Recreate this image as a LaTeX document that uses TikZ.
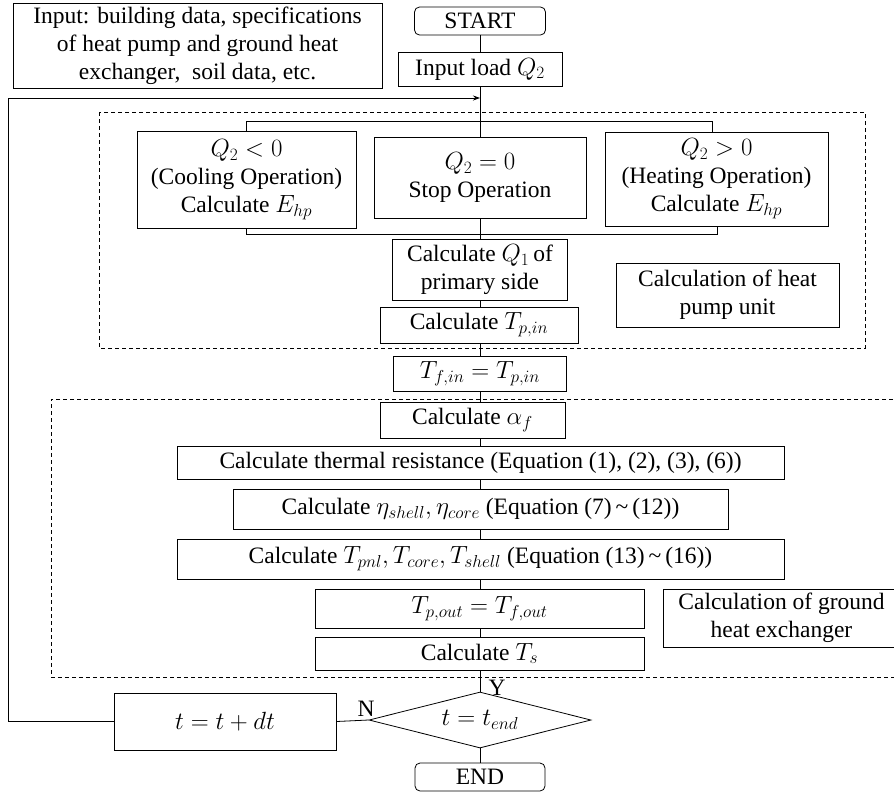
\documentclass[tikz,border=0pt]{standalone}
\usepackage{fontspec}
\setmainfont{Liberation Serif}
\usetikzlibrary{shapes.geometric,arrows.meta}
\newcommand{\fsbig}{\fontsize{23.5}{28}\selectfont}
\begin{document}
\begin{tikzpicture}[x=1pt,y=-1pt,
  box/.style={draw, line width=0.8pt, inner sep=0pt, align=center, font=\fsbig},
  term/.style={box, rounded corners=5pt},
  conn/.style={line width=0.8pt},
  dashbox/.style={line width=0.8pt, dash pattern=on 4pt off 3pt},
  lbl/.style={font=\fsbig, inner sep=0pt}]
\useasboundingbox (0,0) rectangle (894,793);
\clip (0,0) rectangle (894,793);
\fill[white] (0,0) rectangle (894,793);

% dashed group boxes
\draw[dashbox] (99,112) rectangle (865,348);
\draw[dashbox] (900,399) -- (51,399) -- (51,677) -- (900,677);

% nodes
\node[box, minimum width=369, minimum height=85] (inp) at (197.5,45.5)
  {Input: building data, specifications\\of heat pump and ground heat\\exchanger,\ \ soil data, etc.};
\node[term, minimum width=131, minimum height=28] (start) at (480,21) {START};
\node[box, minimum width=164, minimum height=34] (load) at (480,69) {Input load $Q_2$};

\node[box, minimum width=219, minimum height=97] (cool) at (246.5,179.5)
  {$Q_2<0$\\(Cooling Operation)\\Calculate $E_{hp}$};
\node[box, minimum width=212, minimum height=81] (stop) at (480,177.5)
  {$Q_2=0$\\Stop Operation};
\node[box, minimum width=223, minimum height=94] (heat) at (716.5,179)
  {$Q_2>0$\\(Heating Operation)\\Calculate $E_{hp}$};

\node[box, minimum width=175, minimum height=61] (q1) at (480,269.5)
  {Calculate $Q_1$\,of\\primary side};
\node[box, minimum width=198, minimum height=36] (tpin) at (479,325)
  {Calculate $T_{p,in}$};
\node[box, minimum width=223, minimum height=64] (hpu) at (727.5,295)
  {Calculation of heat\\pump unit};

\node[box, minimum width=173, minimum height=35] (tfin) at (480,373.5)
  {$T_{f,in}=T_{p,in}$};

\node[box, minimum width=185, minimum height=36] (alpha) at (472.5,420)
  {Calculate $\alpha_f$};
\node[box, minimum width=607, minimum height=33] (thr) at (480.5,462.5)
  {Calculate thermal resistance (Equation (1), (2), (3), (6))};
\node[box, minimum width=495, minimum height=40] (eta) at (480.5,509)
  {Calculate $\eta_{shell},\eta_{core}$ (Equation (7)\,\textasciitilde\,(12))};
\node[box, minimum width=607, minimum height=40] (tpnl) at (480.5,559)
  {Calculate $T_{pnl},T_{core},T_{shell}$ (Equation (13)\,\textasciitilde\,(16))};
\node[box, minimum width=329, minimum height=39] (tpout) at (479.5,608.5)
  {$T_{p,out}=T_{f,out}$};
\node[box, minimum width=329, minimum height=33] (ts) at (479.5,653.5)
  {Calculate $T_s$};
\node[box, minimum width=237, minimum height=58] (ghx) at (781.5,618)
  {Calculation of ground\\heat exchanger};

\node[box, diamond, aspect=4, minimum width=222, minimum height=56] (dia) at (480,720)
  {$t=t_{end}$};
\node[box, minimum width=222, minimum height=57] (tdt) at (225,721.5)
  {$t=t+dt$};
\node[term, minimum width=130, minimum height=28] (end) at (480,777) {END};

\node[lbl] (ylab) at (497,688) {Y};
\node[lbl] (nlab) at (366,709) {N};

% connectors
\coordinate (merge) at (480,98);
\coordinate (brTL) at (246.5,121);
\coordinate (brTR) at (712,121);
\coordinate (brBL) at (246.5,234);
\coordinate (brBR) at (717,234);

\draw[conn] (start.south) -- (load.north);
\draw[conn] (load.south) -- (stop.north);
\draw[conn] (cool.north) -- (brTL) -- (brTR) -- (brTR |- heat.north);
\draw[conn] (cool.south) -- (brBL) -- (brBR) -- (brBR |- heat.south);
\draw[conn] (stop.south) -- (q1.north);
\draw[conn] (q1.south) -- (q1.south |- tpin.north);
\draw[conn] (q1.south |- tpin.south) -- (tfin.north);
\draw[conn] (tfin.south) -- (tfin.south |- alpha.north);
\draw[conn] (tfin.south |- alpha.south) -- (tfin.south |- thr.north);
\draw[conn] (tfin.south |- thr.south) -- (tfin.south |- eta.north);
\draw[conn] (tfin.south |- eta.south) -- (tfin.south |- tpnl.north);
\draw[conn] (tfin.south |- tpnl.south) -- (tfin.south |- tpout.north);
\draw[conn] (tfin.south |- tpout.south) -- (tfin.south |- ts.north);
\draw[conn] (tfin.south |- ts.south) -- (dia.north);
\draw[conn] (dia.south) -- (end.north);
\draw[conn] (dia.west) -- (tdt.east);
\draw[conn, -{Stealth[length=7pt,width=5pt]}] (tdt.west) -- (8,721.5) -- (8,98) -- (merge);
\end{tikzpicture}
\end{document}
